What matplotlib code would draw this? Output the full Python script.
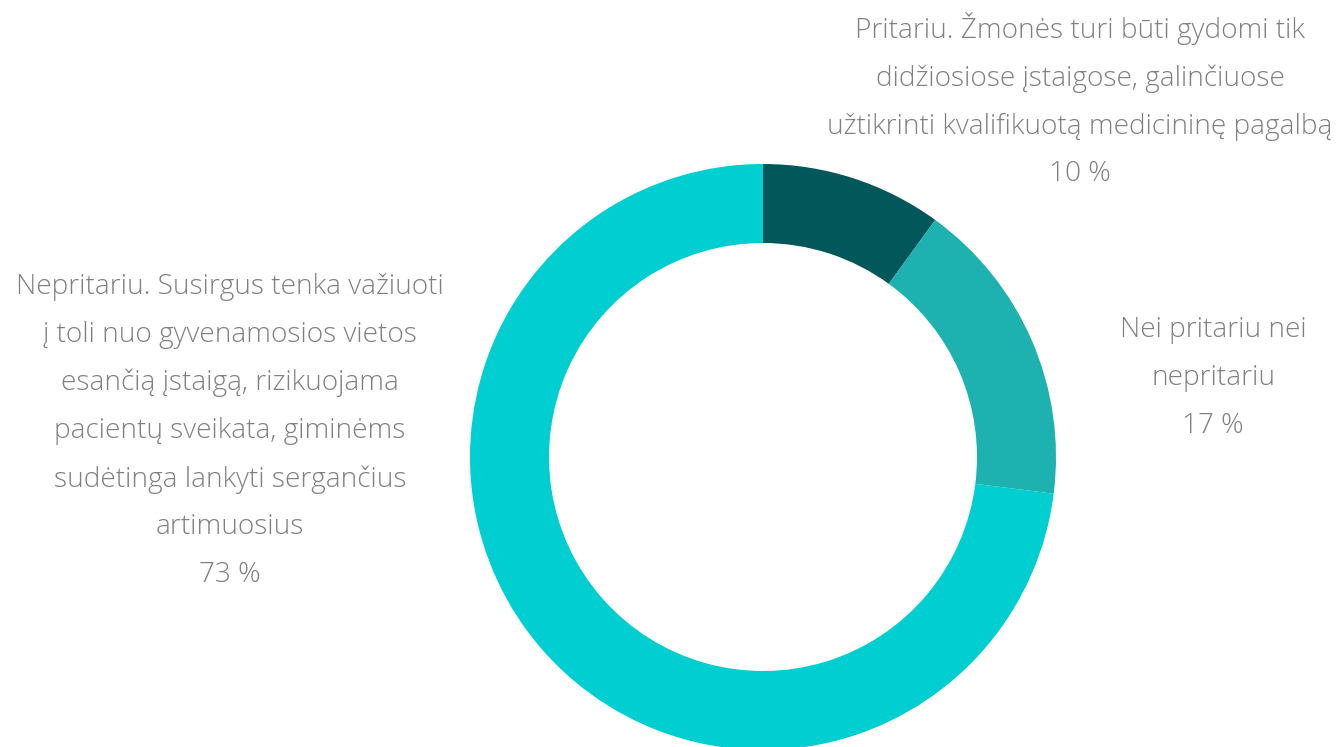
import matplotlib.pyplot as plt

labels = [
    "Pritariu. Žmonės turi būti gydomi tik\ndidžiosiose įstaigose, galinčiuose\nužtikrinti kvalifikuotą medicininę pagalbą",
    "Nei pritariu nei\nnepritariu",
    "Nepritariu. Susirgus tenka važiuoti\nį toli nuo gyvenamosios vietos\nesančią įstaigą, rizikuojama\npacientų sveikata, giminėms\nsudėtinga lankyti sergančius\nartimuosius",
]
shares = [10, 17, 73]
colors = ["#02575A", "#1DB1B0", "#00CED1"]

W, H = 1340, 747
fig = plt.figure(figsize=(W / 100, H / 100), dpi=100)
ax = fig.add_axes([0, 0, 1, 1])

ax.pie(shares, colors=colors, startangle=90, counterclock=False,
       radius=293, center=(763, H - 457),
       wedgeprops=dict(width=79, linewidth=0))

ax.set_xlim(0, W)
ax.set_ylim(0, H)
ax.axis("off")

# label blocks: (x, y center in px from top)
label_pos = [(1080, 100), (1213, 378), (230, 431)]
for lab, val, (x, y) in zip(labels, shares, label_pos):
    ax.text(x, H - y, f"{lab}\n{val} %", ha="center", va="center",
            fontsize=20.2, family="Open Sans", fontweight="light",
            color="#808080", linespacing=1.93)

fig.savefig("out.png", dpi=100)
